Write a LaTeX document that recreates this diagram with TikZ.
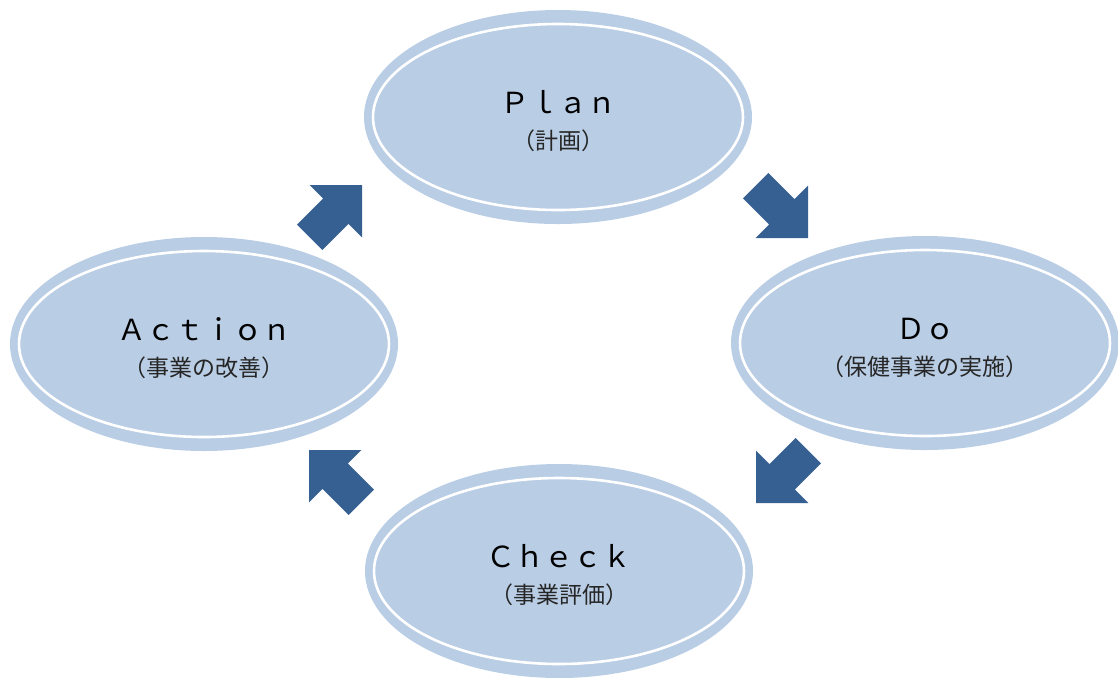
\documentclass[tikz,border=0pt]{standalone}
\usepackage{fontspec}
\setmainfont{Noto Sans CJK JP}
\usetikzlibrary{positioning, calc, shapes.geometric}

\definecolor{stageblue}{HTML}{B9CDE5}
\definecolor{arrowblue}{HTML}{366092}

\begin{document}
\begin{tikzpicture}[x=0.5pt, y=-0.5pt,
    stage/.style={ellipse, fill=stageblue, minimum width=194pt, minimum height=107pt, inner sep=0pt},
    title/.style={font=\fontsize{14.5}{16}\selectfont, anchor=base},
    sub/.style={font=\fontsize{11.5}{13}\selectfont, text=black!85}]
        \useasboundingbox (0,0) rectangle (1118,677);

        \node[stage] (plan) at (558,117) {}; % Plan
        \node[stage] (do) at (925,343) {}; % Do
        \node[stage] (check) at (559,571) {}; % Check
        \node[stage] (action) at (204,344) {}; % Action

        % thin white ring inside each ellipse
        \foreach \s in {plan, do, check, action} {
            \draw[white, line width=1.3pt] (\s.center) ellipse [x radius=185, y radius=93];
        }

        \node[title] (plantitle) at ($(plan.center)+(0,-4)$) {Ｐｌａｎ};
        \node[sub] (plansub) at ($(plan.center)+(0,24)$) {（計画）};
        \node[title] (dotitle) at ($(do.center)+(0,-4)$) {Ｄｏ};
        \node[sub] (dosub) at ($(do.center)+(0,24)$) {（保健事業の実施）};
        \node[title] (checktitle) at ($(check.center)+(0,-4)$) {Ｃｈｅｃｋ};
        \node[sub] (checksub) at ($(check.center)+(0,24)$) {（事業評価）};
        \node[title] (actiontitle) at ($(action.center)+(0,-4)$) {Ａｃｔｉｏｎ};
        \node[sub] (actionsub) at ($(action.center)+(0,24)$) {（事業の改善）};

        % Block arrows between the stages (tip position / direction)
        \coordinate (plan2do) at (808,238);
        \coordinate (do2check) at (756,503);
        \coordinate (check2action) at (309,450);
        \coordinate (action2plan) at (362,185);
        \foreach \t/\a in {plan2do/-45, do2check/-135, check2action/135, action2plan/45} {
            \fill[arrowblue, shift={(\t)}, rotate=\a] (0,0) -- (-37,37) -- (-37,18) -- (-74,18) -- (-74,-18) -- (-37,-18) -- (-37,-37) -- cycle;
        }
\end{tikzpicture}
\end{document}
